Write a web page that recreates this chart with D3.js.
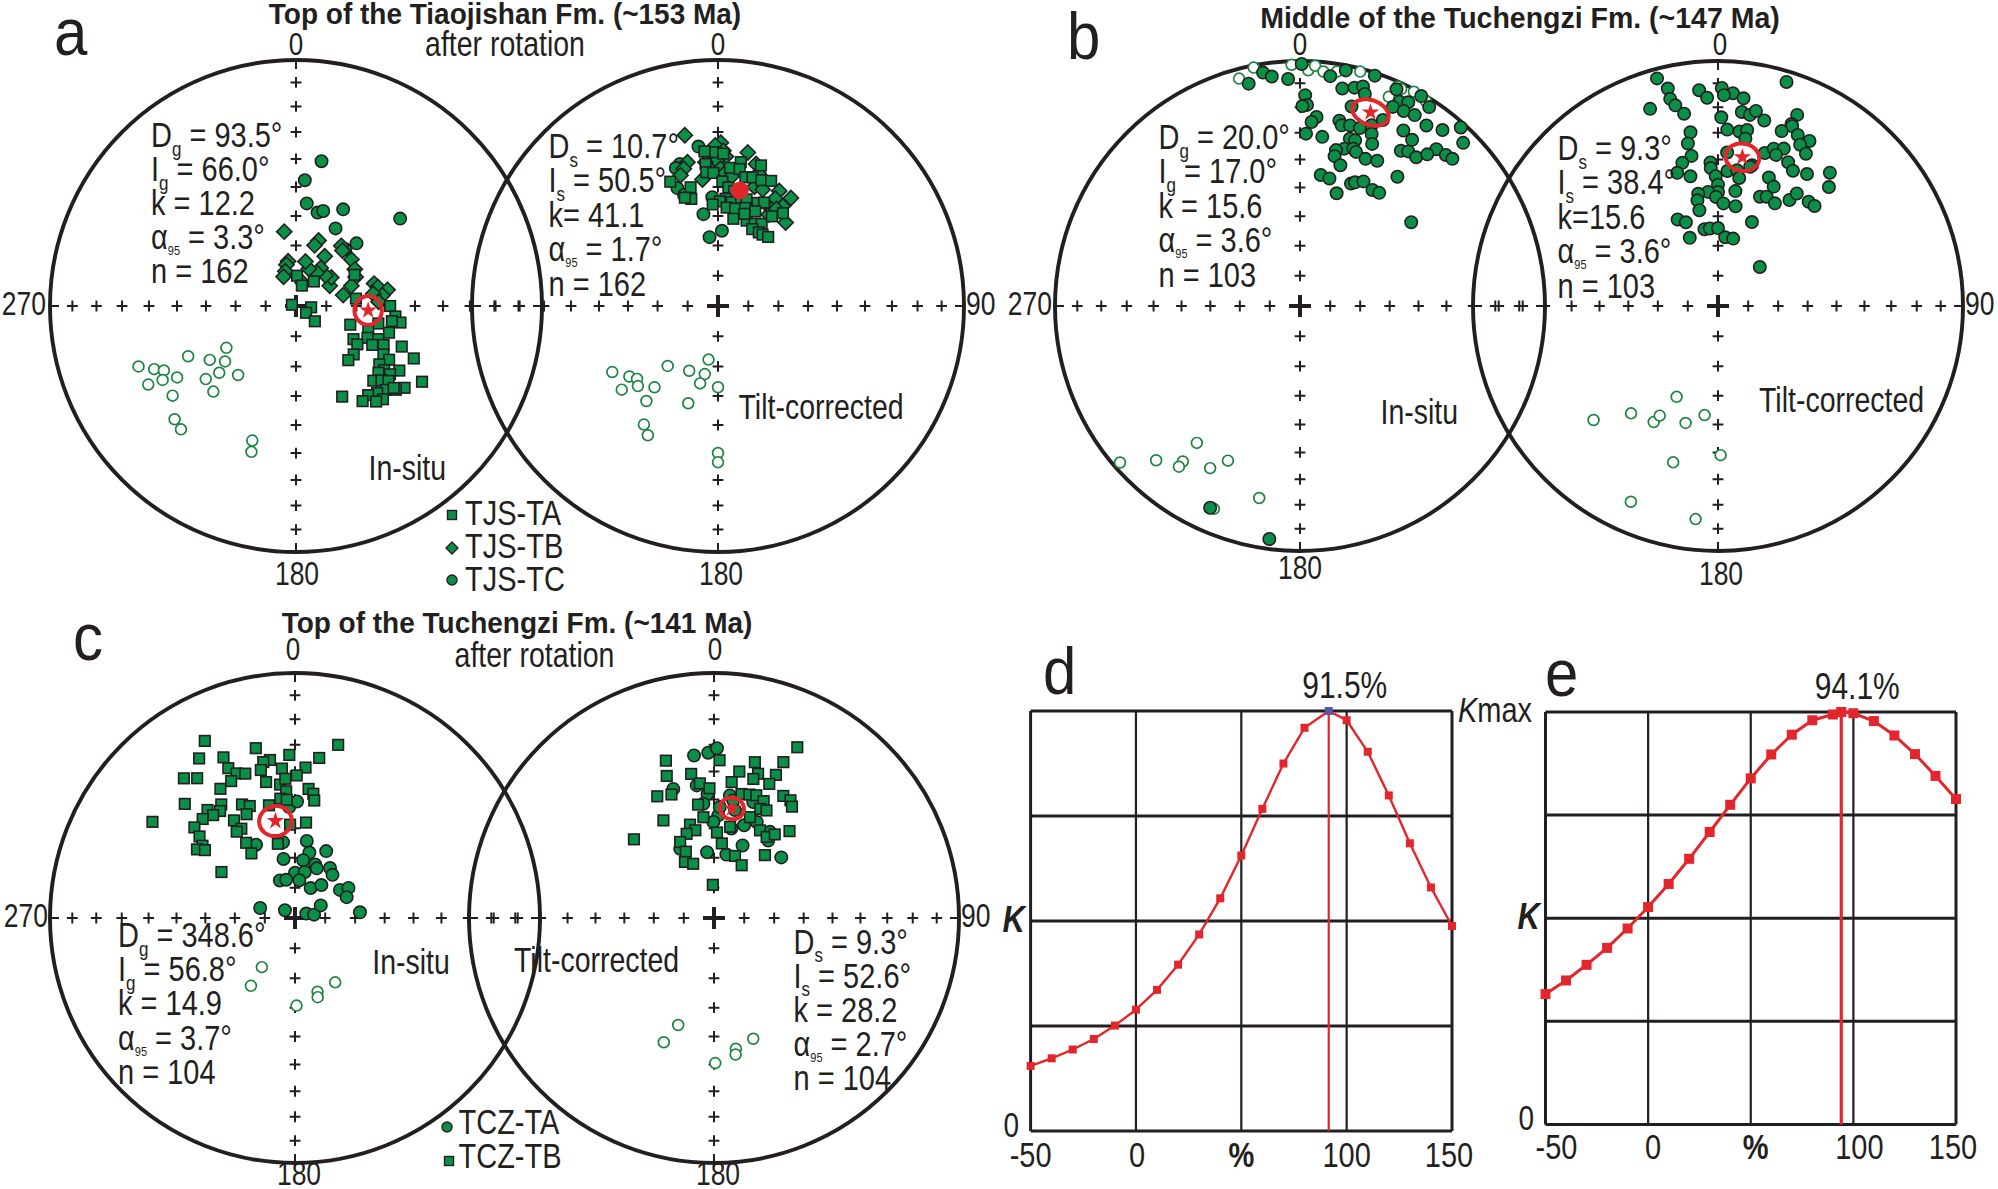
<!DOCTYPE html>
<html>
<head>
<meta charset="utf-8">
<script src="https://cdn.jsdelivr.net/npm/d3@7"></script>
<style>
  html, body { margin: 0; padding: 0; background: #ffffff; }
  svg { display: block; }
  text { font-family: "Liberation Sans", Arial, Helvetica, sans-serif; fill: #231f20; }
</style>
</head>
<body>
<svg id="chart" width="1998" height="1189"></svg>
<script>
// ===================== DATA =====================
// Directions are [declination, inclination] in degrees; negative inclination = upper hemisphere (open symbols)

// Panel a - Top of the Tiaojishan Fm. - in-situ
const aInsituTA = [[2,80],[36,80],[16,83],[287,88.6],[95,85],[124,86],[129,82],[62,68],[83,70],[90,58.6],[96,56.6],[99,54.6],[99,57.6],[102,62],[109,71],[109,64.6],[106,57.7],[120,68],[114,64],[112,60.5],[122,66],[117,61.5],[114,58],[111,52],[130,65],[136,65],[119,56.6],[120,54],[125,56],[114,46.5],[126,53.5],[122,49],[126,51],[129,54.5],[134,54],[131,52],[129,50],[121,40],[127,44],[130,46],[133,48.6],[137,50],[141,51.5],[137,47],[140,48],[145,51],[153,56],[130,47]];
const aInsituTB = [[351,65],[19,67],[17,69],[30,71],[37,65],[40,66],[50,66],[58,67],[64,68],[70,70.5],[77,74],[59,77],[51,75],[44,76],[33,75],[32,77],[19,77],[12,75],[350,75],[347,76],[343,78],[337,79.5],[16,82],[74,63],[77,62],[80,59],[83,61],[81,64],[87,62.5]];
const aInsituTC = [[10,40],[4,47.5],[6,55.5],[13,58],[16,57],[26,54],[50,44],[27,61],[44,61],[41,65]];
const aInsituUp = [[249,-32],[246,-37],[244,-40],[242,-32.5],[241,-38],[239,-43],[245,-50],[234,-38],[238,-56],[232,-60],[239,-63],[229,-56],[220,-60],[231,-51],[224,-50],[227,-33],[223,-32],[198,-42],[197,-38]];
// Panel a - tilt-corrected
const aTiltTA = [[355,37],[359,37.5],[2,38],[355,41.6],[355,44.6],[358,45],[5,43],[9,40.5],[9,43],[12,45.5],[17,40],[15,45],[19,45],[23,44],[339,45],[347,49],[346,53],[343,52],[2,48],[5,50],[8,51],[4,54],[1,55],[7.5,55],[12,53],[15,53],[357,56],[5,57],[10,57],[15.5,56],[21,53],[24,52],[18.5,60],[24,60],[28,59],[24,62],[29,62],[32,62],[36,61.6],[10,60.5],[16,58],[21.5,56],[31,55],[35,52]];
const aTiltTB = [[349,30],[1,34],[359,35],[2,37],[11,36.6],[3,39],[359.5,40.5],[355,41],[348,40],[346,42],[344,44],[353,47],[356,43],[1,43.5],[3,45],[6,46],[15,40],[17,43],[17,48],[21,48],[28,46],[28,49],[34,46],[33,50],[29,53],[29,55],[39,54],[31,52]];
const aTiltTC = [[353,35],[345,40],[343,41],[341,48],[343,51],[357,53.5],[351,59],[3,65],[353,67]];
const aTiltUp = [[238,-48],[231.5,-52],[228,-53.5],[229,-47],[225,-52],[218,-55.5],[220,-64],[217,-50],[204,-66.5],[191,-67],[190,-72],[193,-63.6],[180,-63],[197,-56],[212,-42.6],[208.5,-40],[180,-40],[180,-36.6]];

// Panel b - Middle of the Tuchengzi Fm. - in-situ
const bInsituDown = [[351,4],[353,6.3],[347,7.6],[357,8],[0.4,1.4],[7.5,6],[11,2.3],[18,1.3],[11,10.5],[14,9],[16,7.5],[17,10.4],[24,3.6],[30,1.2],[33,3.6],[26,8],[28,6.5],[25,11.3],[28,10.8],[31,10],[24,18],[42,2.2],[39,8.4],[35,11],[30.5,18],[34,19.3],[45,6.5],[33,25.4],[35,24],[38,24],[41,16.3],[40,20.3],[44,15.4],[46,14.6],[37,34.3],[53,42.6],[1.4,15],[2,19],[0.7,19.5],[5,23.6],[3.6,25.7],[2,30.3],[7.5,31],[12,23.7],[13,25.3],[15.5,24.5],[18.6,24.4],[14.5,17],[21.6,21.7],[22.6,24.9],[16.6,29.5],[18.4,29.5],[15.7,33.7],[18.7,32.7],[20,33.5],[13,35],[13,37.3],[16,40],[24,34.6],[28,33.3],[24,28.4],[9,45],[13,45.6],[22.6,45],[24,44],[27,42.4],[18,50],[32,43.5],[35,43],[204,10.8],[187.5,4.6]];
const bInsituUp = [[345,-4.4],[349,-1],[358,-1.7],[2,-4.2],[3.6,-2],[5.7,-4.3],[9,-3.5],[14.4,-1.4],[23,-8],[24,-2.2],[25,-2.6],[28,-1.1],[31.5,-2],[229,-3],[223,-15],[217,-21.6],[217,-19],[217,-30.7],[209,-25.3],[205,-31],[192,-21],[203,-11]];
// Panel b - tilt-corrected
const bTiltDown = [[345,4.3],[347,9.8],[355,12.6],[357,16],[1,12],[4,14],[1.6,15],[7,15.7],[347,14.3],[348,17.4],[341,16],[350,21.4],[1,24],[7,21.3],[9.5,22],[11,20],[14,23],[17,4.9],[22.5,16.7],[22,21],[22.4,21.7],[20,25],[25,24],[29,24],[27,27],[30,29],[3,28.7],[7,29],[9.4,28],[9.3,31.4],[351,29],[349.5,33],[350,37.8],[346,39.6],[343,42.6],[348,45],[357,41],[4,44],[357,43],[359,46],[8,43.4],[9.4,46],[13.6,40.6],[17,35],[19.5,32.4],[22.7,31],[21,34.3],[26,35],[29,37],[34,35.3],[40,29.7],[43,34],[21.6,43],[25,45.3],[21,50.5],[24,49.6],[29,50.4],[34,46.7],[35,43.3],[41,43],[44,42.7],[8.6,50.8],[0,49],[0,51.6],[355,51.4],[350,51.6],[349,53.8],[349,57.3],[359,53.3],[3,55.5],[10,56],[335,58],[339,60],[350,64],[354,64],[0,64],[6,67],[12.7,67],[337.5,65.4],[22,59.7],[47,71],[3.4,37.3],[13,41.3]];
const bTiltUp = [[227.5,-31.7],[219,-43],[209,-45],[208,-48],[204.5,-56.5],[195.5,-49],[187,-53],[179,-39],[196,-34],[204,-13.6],[186,-13.6]];

// Panel c - Top of the Tuchengzi Fm. - in-situ
const cInsituTA = [[357,52.6],[1,50.7],[8.7,64],[351,64.4],[25,65.4],[12.4,67.7],[349,70],[8,70.6],[20.6,71],[23.7,72],[35,69.7],[41,71],[0,75],[12,74.4],[338,76.6],[347,77],[6.6,77.4],[27.6,78.8],[38.7,76],[58,72.4],[60.6,69.6],[68,71.5],[286,78],[307.5,85.8],[68.5,86],[80,83.6],[64,80.5],[85,68.3],[332,62.3]];
const cInsituTB = [[333,20],[347,29.6],[14,28],[329,25],[336,29],[351,35],[348.5,35.3],[358,33.8],[8.6,34.3],[336,33.5],[355,38.7],[4,38.4],[338,36.5],[341,37.7],[347,38],[321.5,28],[325,31],[335,38.3],[348,42.7],[353.6,44.4],[356,42.5],[0.7,41.4],[330,39],[6,46],[8.4,47.5],[356,47],[353,49.4],[9.3,49.8],[316,35.5],[327,44],[321,42.7],[335,47.6],[338,49.2],[325,45.7],[321.5,45.4],[317,44],[347,51],[335,51.4],[328,51.2],[312,44],[329,55],[326,55],[6.6,57.8],[357,58.7],[310.5,47.5],[308,50.4],[305,49.6],[307,52],[327,60],[326,64],[347,64.6],[302,61],[356,50],[304,30.5]];
const cInsituUp = [[214,-70.3],[213,-63],[179,-60.7],[163,-64.3],[164,-62.5],[148,-64.7]];
// Panel c - tilt-corrected
const cTiltTA = [[353,33.6],[358,33],[1,31.3],[342.5,44],[352.6,44.6],[357,48],[7.4,48.2],[2.4,55.5],[11,53],[18,57.3],[11,59.5],[21.5,64],[354,68],[11,68.5],[48,59.7],[33,55.5],[35,58.3],[334,64.3],[9.3,49.8],[18.7,48.6],[354.7,51.3],[359.6,57.8],[24,54.7],[3,52.6]];
const cTiltTB = [[26,23.5],[343,33.3],[2,35.8],[14.7,34.6],[24,31],[341.6,38.8],[351,40.2],[9.8,39.2],[17,38.4],[23.4,36.5],[15.8,40.7],[7.4,43.4],[22.4,40.5],[354,44],[358,46],[335,44.4],[341,45.7],[29.6,42.2],[33,42.2],[35,43.8],[352,51.4],[12.5,47],[16,46.5],[19,46],[23,47],[23,50],[26,49.6],[332.6,53],[354,56],[19.6,54],[345.6,57.7],[348,60],[342,60.4],[2,61.4],[10,59],[27.7,56.8],[33,57.6],[36,55.3],[41,51.2],[314.5,52.2],[336,62.2],[6,65],[337,66],[332.6,69],[339,70.7],[18.7,68.2],[27.7,70.2],[39,63],[358,79]];
const cTiltUp = [[198.5,-52],[202,-44.5],[179.5,-40.5],[170.5,-45],[171,-43],[162,-47]];

// Mean directions [D, I, alpha95]
const aInsituMean = [93.5, 66.0, 3.3];
const aTiltMean = [10.7, 50.5, 1.7];
const bInsituMean = [20.0, 17.0, 3.6];
const bTiltMean = [9.3, 38.4, 3.6];
const cInsituMean = [348.6, 56.8, 3.7];
const cTiltMean = [9.3, 52.6, 2.7];

// Statistics text [symbol, subscript, rest]
const aInsituStats = [["D","g"," = 93.5°"],["I","g"," = 66.0°"],["k",""," = 12.2"],["α","95"," = 3.3°"],["n",""," = 162"]];
const aTiltStats = [["D","s"," = 10.7°"],["I","s"," = 50.5°"],["k","","= 41.1"],["α","95"," = 1.7°"],["n",""," = 162"]];
const bInsituStats = [["D","g"," = 20.0°"],["I","g"," = 17.0°"],["k",""," = 15.6"],["α","95"," = 3.6°"],["n",""," = 103"]];
const bTiltStats = [["D","s"," = 9.3°"],["I","s"," = 38.4°"],["k","","=15.6"],["α","95"," = 3.6°"],["n",""," = 103"]];
const cInsituStats = [["D","g"," = 348.6°"],["I","g"," = 56.8°"],["k",""," = 14.9"],["α","95"," = 3.7°"],["n",""," = 104"]];
const cTiltStats = [["D","s"," = 9.3°"],["I","s"," = 52.6°"],["k",""," = 28.2"],["α","95"," = 2.7°"],["n",""," = 104"]];

// Net decorations
const netAzimuths = [0, 90, 180, 270];
const tickIncs = [10, 20, 30, 40, 50, 60, 70, 80];
const azLabels = ["0", "90", "180", "270"];

// Panels d, e: fold test (K / Kmax vs % unfolding)
const dPercent = [-50,-40,-30,-20,-10,0,10,20,30,40,50,60,70,80,91.5,100,110,120,130,140,150];
const dK = [0.155,0.173,0.194,0.219,0.251,0.289,0.336,0.396,0.468,0.554,0.656,0.767,0.875,0.960,1.0,0.978,0.903,0.799,0.685,0.580,0.488];
const dPeak = 91.5;
const ePercent = [-50,-40,-30,-20,-10,0,10,20,30,40,50,60,70,80,90,94.1,100,110,120,130,140,150];
const eK = [0.316,0.349,0.387,0.428,0.475,0.527,0.583,0.644,0.709,0.775,0.839,0.897,0.945,0.980,0.994,1.0,0.997,0.978,0.943,0.898,0.845,0.789];
const ePeak = 94.1;
const foldXTicks = [-50, 0, 50, 100, 150];
const foldXLabels = ["-50", "0", "%", "100", "150"];
const foldYTicks = [0, 0.25, 0.5, 0.75, 1];

// ===================== DRAWING =====================
const INK = "#231f20", GREEN = "#0a8f47", OPENG = "#1c8441", RED = "#e3262b";
const TALL = 1.22;      // vertical stretch of the reference's lettering
const RING_SCALE = 1.4; // drawn size of the alpha95 cone symbol
const svg = d3.select("#chart");
const layer = { nets: svg.append("g"), marks: svg.append("g"), means: svg.append("g"), text: svg.append("g") };

function eqArea(dec, inc) {
  const r = Math.SQRT2 * Math.sin((90 - Math.abs(inc)) * Math.PI / 360);
  const a = dec * Math.PI / 180;
  return [r * Math.sin(a), r * Math.cos(a)];
}

function drawNet(cx, cy, R) {
  const g = layer.nets.append("g");
  const sx = d3.scaleLinear().domain([-1, 1]).range([cx - R, cx + R]);
  const sy = d3.scaleLinear().domain([-1, 1]).range([cy + R, cy - R]);
  const pt = (d, i) => { const p = eqArea(d, i); return [sx(p[0]), sy(p[1])]; };
  g.append("circle").attr("cx", sx(0)).attr("cy", sy(0)).attr("r", sx(1) - sx(0))
    .attr("fill", "none").attr("stroke", INK).attr("stroke-width", 3.9);
  const a = 5.4;
  netAzimuths.forEach(az => {
    tickIncs.forEach(inc => {
      const [x, y] = pt(az, inc);
      g.append("path").attr("d", `M${x - a},${y}H${x + a}M${x},${y - a}V${y + a}`)
        .attr("stroke", INK).attr("stroke-width", 2).attr("fill", "none");
    });
    const [x0, y0] = pt(az, 0);
    const f = 1 - 9 / R;
    g.append("line").attr("x1", x0).attr("y1", y0)
      .attr("x2", sx(0) + (x0 - sx(0)) * f).attr("y2", sy(0) + (y0 - sy(0)) * f)
      .attr("stroke", INK).attr("stroke-width", 2);
  });
  const c = 11;
  g.append("path").attr("d", `M${sx(0) - c},${sy(0)}H${sx(0) + c}M${sx(0)},${sy(0) - c}V${sy(0) + c}`)
    .attr("stroke", INK).attr("stroke-width", 4);
  return { sx, sy, pt };
}

function plot(net, data, kind) {
  const g = layer.marks.append("g");
  data.forEach(([d, i]) => {
    const [x, y] = net.pt(d, i);
    if (kind === "square") {
      g.append("rect").attr("x", x - 5.3).attr("y", y - 5.3).attr("width", 10.6).attr("height", 10.6)
        .attr("fill", GREEN).attr("stroke", INK).attr("stroke-width", 1.6);
    } else if (kind === "diamond") {
      g.append("path").attr("d", `M${x},${y - 7.6}L${x + 7.6},${y}L${x},${y + 7.6}L${x - 7.6},${y}Z`)
        .attr("fill", GREEN).attr("stroke", INK).attr("stroke-width", 1.6);
    } else if (kind === "circle") {
      g.append("circle").attr("cx", x).attr("cy", y).attr("r", 6.2)
        .attr("fill", GREEN).attr("stroke", INK).attr("stroke-width", 1.6);
    } else {
      g.append("circle").attr("cx", x).attr("cy", y).attr("r", 5.4)
        .attr("fill", "#ffffff").attr("stroke", OPENG).attr("stroke-width", 1.7);
    }
  });
}

function drawMean(net, m, style) {
  const [D, I, a95] = m;
  const g = layer.means.append("g");
  const [x, y] = net.pt(D, I);
  if (style === "dot") {
    g.append("circle").attr("cx", x).attr("cy", y).attr("r", 9).attr("fill", RED);
    return;
  }
  const ring = d3.geoCircle().center([D, I]).radius(a95).precision(4)().coordinates[0];
  const line = d3.line().curve(d3.curveLinearClosed);
  const pts = ring.map(c => net.pt(c[0], c[1])).map(p => [x + (p[0] - x) * RING_SCALE, y + (p[1] - y) * RING_SCALE]);
  g.append("path").attr("d", line(pts))
    .attr("fill", "none").attr("stroke", RED).attr("stroke-width", 4);
  g.append("path").attr("d", d3.symbol().type(d3.symbolStar).size(95)())
    .attr("transform", `translate(${x},${y})`).attr("fill", RED);
}

function label(x, y, str, size, opt = {}) {
  const sy = opt.tall === undefined ? TALL : opt.tall;
  const g = layer.text.append("g").attr("transform", `translate(${x},${y}) scale(1,${sy})`);
  return g.append("text").attr("x", 0).attr("y", 0).attr("font-size", size)
    .attr("text-anchor", opt.anchor || "start")
    .attr("font-weight", opt.bold ? "bold" : null)
    .attr("font-style", opt.italic ? "italic" : null)
    .text(str);
}

function stats(x, y0, step, lines) {
  lines.forEach((l, k) => {
    const g = layer.text.append("g").attr("transform", `translate(${x},${y0 + k * step}) scale(1,${TALL})`);
    const t = g.append("text").attr("x", 0).attr("y", 0).attr("font-size", 29);
    t.append("tspan").text(l[0]);
    if (l[1]) {
      const small = l[1].length > 1;
      const dy = small ? 5 : 7;
      t.append("tspan").attr("font-size", small ? 11 : 17).attr("dy", dy).text(l[1]);
      t.append("tspan").attr("dy", -dy).text(l[2]);
    } else {
      t.append("tspan").text(l[2]);
    }
  });
}

function legendItem(x, y, kind, str, tx, ty) {
  const g = layer.marks.append("g");
  if (kind === "square") g.append("rect").attr("x", x - 4.5).attr("y", y - 4.5).attr("width", 9).attr("height", 9).attr("fill", GREEN).attr("stroke", INK).attr("stroke-width", 1.4);
  else if (kind === "diamond") g.append("path").attr("d", `M${x},${y - 6}L${x + 6},${y}L${x},${y + 6}L${x - 6},${y}Z`).attr("fill", GREEN).attr("stroke", INK).attr("stroke-width", 1.4);
  else g.append("circle").attr("cx", x).attr("cy", y).attr("r", 5).attr("fill", GREEN).attr("stroke", INK).attr("stroke-width", 1.4);
  label(tx, ty, str, 29);
}

// ---------- Panel a ----------
const aL = drawNet(296, 306, 246);
const aR = drawNet(718, 306, 246);
plot(aL, aInsituUp, "open");
plot(aL, aInsituTC, "circle");
plot(aL, aInsituTB, "diamond");
plot(aL, aInsituTA, "square");
drawMean(aL, aInsituMean, "ring");
plot(aR, aTiltUp, "open");
plot(aR, aTiltTC, "circle");
plot(aR, aTiltTB, "diamond");
plot(aR, aTiltTA, "square");
drawMean(aR, aTiltMean, "dot");

label(54, 55, "a", 60, { tall: 1.12 });
label(505, 24, "Top of the Tiaojishan Fm. (~153 Ma)", 28, { bold: true, anchor: "middle", tall: 1.05 });
label(505, 56, "after rotation", 28.5, { anchor: "middle" });
label(aL.sx(0), 55, azLabels[0], 26, { anchor: "middle" });
label(aR.sx(0), 55, azLabels[0], 26, { anchor: "middle" });
label(aL.sx(-1) - 4, 315, azLabels[3], 26.5, { anchor: "end" });
label(aR.sx(1) + 2, 315, azLabels[1], 26.5);
label(aL.sx(0) + 1, 585, azLabels[2], 26.5, { anchor: "middle" });
label(aR.sx(0) + 3, 585, azLabels[2], 26.5, { anchor: "middle" });
stats(151, 147, 34, aInsituStats);
stats(548.5, 158, 34.4, aTiltStats);
label(368.5, 480, "In-situ", 28.5);
label(738.5, 419, "Tilt-corrected", 28.5);
legendItem(452, 515, "square", "TJS-TA", 465, 524.5);
legendItem(452, 548, "diamond", "TJS-TB", 465, 558);
legendItem(452, 580, "circle", "TJS-TC", 465, 590.5);

// ---------- Panel b ----------
const bL = drawNet(1300, 306, 245);
const bR = drawNet(1718, 306, 245);
plot(bL, bInsituUp, "open");
plot(bL, bInsituDown, "circle");
drawMean(bL, bInsituMean, "ring");
plot(bR, bTiltUp, "open");
plot(bR, bTiltDown, "circle");
drawMean(bR, bTiltMean, "ring");

label(1067, 59, "b", 60, { tall: 1.12 });
label(1520, 28, "Middle of the Tuchengzi Fm. (~147 Ma)", 28.5, { bold: true, anchor: "middle", tall: 1.05 });
label(bL.sx(0), 55, azLabels[0], 26, { anchor: "middle" });
label(bR.sx(0) + 2, 55, azLabels[0], 26, { anchor: "middle" });
label(bL.sx(-1) - 3, 315, azLabels[3], 26.5, { anchor: "end" });
label(bR.sx(1) + 2, 315, azLabels[1], 26.5);
label(bL.sx(0), 579, azLabels[2], 26.5, { anchor: "middle" });
label(bR.sx(0) + 3, 585, azLabels[2], 26.5, { anchor: "middle" });
stats(1158.5, 149, 34.4, bInsituStats);
stats(1557.5, 160, 34.4, bTiltStats);
label(1380.5, 423.5, "In-situ", 28.5);
label(1759, 412, "Tilt-corrected", 28.5);

// ---------- Panel c ----------
const cL = drawNet(295, 918, 245);
const cR = drawNet(714, 918, 245);
plot(cL, cInsituUp, "open");
plot(cL, cInsituTA, "circle");
plot(cL, cInsituTB, "square");
drawMean(cL, cInsituMean, "ring");
plot(cR, cTiltUp, "open");
plot(cR, cTiltTA, "circle");
plot(cR, cTiltTB, "square");
drawMean(cR, cTiltMean, "ring");

label(73, 660, "c", 60, { tall: 1.12 });
label(517, 633, "Top of the Tuchengzi Fm. (~141 Ma)", 28, { bold: true, anchor: "middle", tall: 1.05 });
label(534.5, 666.5, "after rotation", 28.5, { anchor: "middle" });
label(cL.sx(0) - 2, 660, azLabels[0], 26, { anchor: "middle" });
label(cR.sx(0) + 1, 660, azLabels[0], 26, { anchor: "middle" });
label(cL.sx(-1) - 2, 927, azLabels[3], 26.5, { anchor: "end" });
label(cR.sx(1) + 2, 927, azLabels[1], 26.5);
label(cL.sx(0) + 4, 1185, azLabels[2], 26.5, { anchor: "middle" });
label(cR.sx(0) + 4, 1185, azLabels[2], 26.5, { anchor: "middle" });
stats(118, 947, 34.2, cInsituStats);
stats(793.5, 953.5, 34.2, cTiltStats);
label(372.3, 974, "In-situ", 28.5);
label(514, 972, "Tilt-corrected", 28.5);
legendItem(447, 1127, "circle", "TCZ-TA", 458.5, 1134);
legendItem(449, 1161, "square", "TCZ-TB", 458.5, 1168);

// ---------- Panels d, e ----------
function foldPanel(x0, x1, y0, y1, pct, kvals, peak, opt) {
  const x = d3.scaleLinear().domain([-50, 150]).range([x0, x1]);
  const y = d3.scaleLinear().domain([0, 1]).range([y1, y0]);
  const g = svg.append("g");
  foldYTicks.forEach(t => g.append("line").attr("x1", x0).attr("x2", x1).attr("y1", y(t)).attr("y2", y(t))
    .attr("stroke", INK).attr("stroke-width", 3));
  foldXTicks.forEach((t, k) => g.append("line").attr("x1", x(t)).attr("x2", x(t)).attr("y1", y(0)).attr("y2", y(1))
    .attr("stroke", INK).attr("stroke-width", (k === 0 || k === foldXTicks.length - 1) ? 3 : 2.2));
  g.append("line").attr("x1", x(peak)).attr("x2", x(peak)).attr("y1", y(0)).attr("y2", y(1))
    .attr("stroke", RED).attr("stroke-width", opt.vw);
  const pts = pct.map((p, k) => [x(p), y(kvals[k])]);
  g.append("path").attr("d", d3.line()(pts)).attr("fill", "none").attr("stroke", RED).attr("stroke-width", opt.lw);
  pts.forEach((p, k) => {
    g.append("rect").attr("x", p[0] - opt.ms / 2).attr("y", p[1] - opt.ms / 2).attr("width", opt.ms).attr("height", opt.ms)
      .attr("fill", (opt.peakColor && pct[k] === peak) ? opt.peakColor : RED);
  });
  foldXTicks.forEach((t, k) => label(x(t) + opt.lx[k], opt.labelY, foldXLabels[k], 29,
    { anchor: "middle", bold: foldXLabels[k] === "%" }));
  label(x(peak) + opt.peakDx, y(1) - 13, d3.format(".1f")(peak) + "%", 30, { anchor: "middle" });
  label(x0 - 27, y(0) + 6, "0", 28);
  label(x0 - 28, y(0.5) + 11, "K", 31, { bold: true, italic: true });
  return { x, y };
}
const dPanel = foldPanel(1030.6, 1452, 711, 1131, dPercent, dK, dPeak,
  { vw: 2.2, lw: 2.4, ms: 8, peakColor: "#5458a8", labelY: 1167, lx: [0, 1, 0, 0, -3], peakDx: 16 });
const ePanel = foldPanel(1545.5, 1956, 712, 1124.4, ePercent, eK, ePeak,
  { vw: 3.2, lw: 3, ms: 10, peakColor: null, labelY: 1159, lx: [11, 5, 5, 6, -3], peakDx: 16 });
label(1043, 694, "d", 60, { tall: 1.12 });
label(1545, 696, "e", 60, { tall: 1.12 });
const km = label(1458, 722, "", 29);
km.append("tspan").attr("font-style", "italic").text("K");
km.append("tspan").text("max");
</script>
</body>
</html>
